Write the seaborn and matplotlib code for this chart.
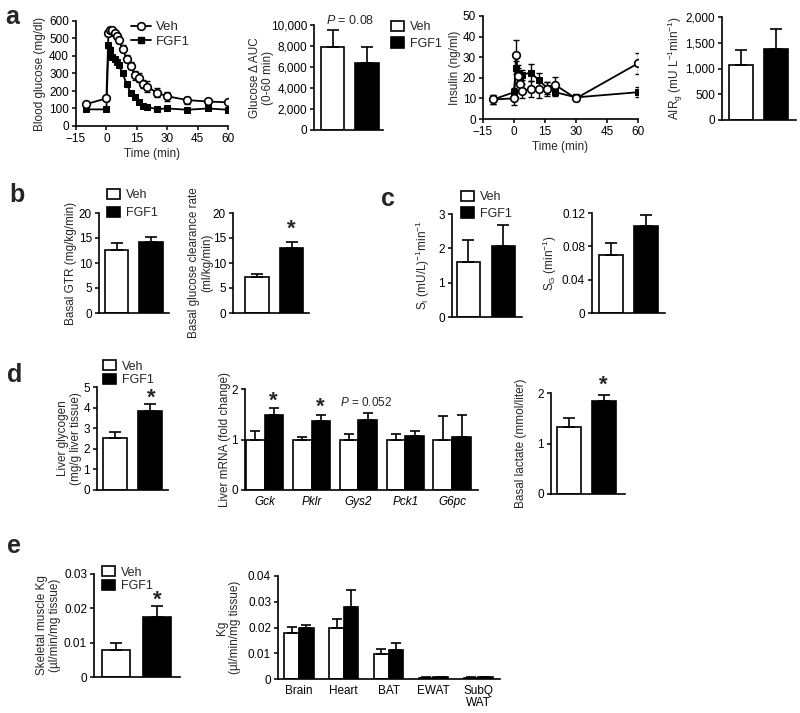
import numpy as np
import pandas as pd
import matplotlib
matplotlib.use("Agg")
import matplotlib.pyplot as plt
import seaborn as sns
from matplotlib.patches import Patch
from matplotlib.lines import Line2D
from matplotlib.transforms import Affine2D, blended_transform_factory

# ── data ──
groups = ["Veh", "FGF1"]
bar_colors = {"Veh": "white", "FGF1": "black"}

# a: IVGTT
gluc_time = [-10, 0, 1, 2, 3, 4, 5, 6, 8, 10, 12, 14, 16, 18, 20, 25, 30, 40, 50, 60]
gluc_veh = [125, 158, 530, 548, 548, 530, 515, 490, 440, 385, 345, 290, 275, 240, 225, 190, 170, 148, 140, 135]
gluc_veh_sem = [10, 15, 15, 12, 12, 12, 15, 15, 20, 20, 20, 25, 25, 25, 30, 25, 25, 20, 15, 10]
gluc_fgf1 = [95, 95, 460, 435, 395, 380, 365, 350, 300, 240, 190, 165, 135, 115, 108, 97, 100, 93, 100, 93]
gluc_fgf1_sem = [8, 8, 15, 15, 12, 10, 10, 10, 10, 8, 8, 8, 6, 6, 6, 5, 5, 5, 5, 5]

auc_vals = [7900, 6400]
auc_sem = [1600, 1500]

ins_time = [-10, 0, 1, 2, 3, 4, 8, 12, 16, 20, 30, 60]
ins_veh = [9.5, 10, 31, 21, 17, 13.5, 14.5, 14.5, 14.5, 16.5, 10, 27]
ins_veh_sem = [2, 3, 7.5, 4, 4, 3.5, 4, 4.5, 3.5, 4, 1.5, 5]
ins_fgf1 = [9.5, 13, 25, 22, 19, 21.5, 22.5, 19, 15, 13, 10.5, 13]
ins_fgf1_sem = [2, 2, 3, 4, 3, 2.5, 4, 3.5, 3, 2, 1.5, 2.5]

air_vals = [1060, 1380]
air_sem = [290, 380]

# b
gtr_vals = [12.6, 14.3]
gtr_sem = [1.4, 0.9]
clear_vals = [7.2, 13.1]
clear_sem = [0.7, 1.2]

# c
si_vals = [1.6, 2.06]
si_sem = [0.63, 0.61]
sg_vals = [0.07, 0.104]
sg_sem = [0.0135, 0.014]

# d
glyc_vals = [2.52, 3.85]
glyc_sem = [0.3, 0.33]
genes = ["Gck", "Pklr", "Gys2", "Pck1", "G6pc"]
mrna_veh = [1.0, 1.0, 1.0, 1.0, 1.0]
mrna_veh_sem = [0.17, 0.05, 0.11, 0.10, 0.46]
mrna_fgf1 = [1.48, 1.37, 1.39, 1.07, 1.05]
mrna_fgf1_sem = [0.14, 0.11, 0.14, 0.10, 0.43]
lact_vals = [1.33, 1.84]
lact_sem = [0.18, 0.12]

# e
skm_vals = [0.0078, 0.0174]
skm_sem = [0.0022, 0.0033]
tissues = ["Brain", "Heart", "BAT", "EWAT", "SubQ\nWAT"]
kg_veh = [0.0177, 0.0198, 0.0097, 0.0005, 0.0005]
kg_veh_sem = [0.0026, 0.0036, 0.0018, 0.0001, 0.0001]
kg_fgf1 = [0.0198, 0.028, 0.0113, 0.0007, 0.0007]
kg_fgf1_sem = [0.001, 0.0066, 0.0026, 0.0001, 0.0001]

# ── style ──
sns.set_theme(style="ticks")
plt.rcParams["font.family"] = ["Liberation Sans", "DejaVu Sans"]
plt.rcParams.update({
    "font.size": 8.5,
    "axes.linewidth": 1.2,
    "axes.edgecolor": "black",
    "xtick.color": "black",
    "ytick.color": "black",
    "xtick.major.width": 1.1,
    "ytick.major.width": 1.1,
    "xtick.major.size": 3,
    "ytick.major.size": 3,
    "xtick.major.pad": 2,
    "ytick.major.pad": 2,
    "xtick.labelsize": 8.5,
    "ytick.labelsize": 8.5,
    "axes.labelsize": 8.5,
    "mathtext.fontset": "custom",
    "mathtext.rm": "Liberation Sans",
    "mathtext.it": "Liberation Sans:italic",
})

W, H = 800, 713
fig = plt.figure(figsize=(W / 100, H / 100), dpi=100)
px = Affine2D().scale(1 / W, -1 / H).translate(0, 1) + fig.transFigure


def box(x0, x1, y0, y1):
    ax = fig.add_axes([x0 / W, 1 - y1 / H, (x1 - x0) / W, (y1 - y0) / H])
    sns.despine(ax=ax)
    return ax


def ylab(ax, text, xr):
    ax.set_ylabel(text, linespacing=1.15)
    ax.yaxis.set_label_coords(xr, 0.5, transform=blended_transform_factory(px, ax.transAxes))


def yaxis(ax, ticks, labels=None):
    ax.set_ylim(ticks[0], ticks[-1])
    ax.set_yticks(ticks)
    ax.set_yticklabels(labels if labels else [str(t) for t in ticks])


def bar_pair(ax, vals, sems, xlim):
    df = pd.DataFrame({"group": groups, "value": vals})
    sns.barplot(data=df, x="group", y="value", hue="group", palette=bar_colors,
                width=0.68, edgecolor="black", linewidth=1.2, errorbar=None,
                legend=False, ax=ax)
    xs = [p.get_x() + p.get_width() / 2 for p in ax.patches]
    ax.errorbar(xs, vals, yerr=[np.zeros(len(vals)), sems], fmt="none",
                ecolor="black", elinewidth=1.2, capsize=4, capthick=1.2, clip_on=False)
    ax.set_xlim(*xlim)
    ax.set_xticks([])
    ax.set_xlabel("")


def bar_groups(ax, cats, veh, veh_sem, fgf, fgf_sem, width, xlim):
    df = pd.DataFrame({"cat": cats * 2, "group": ["Veh"] * len(cats) + ["FGF1"] * len(cats),
                       "value": veh + fgf})
    sns.barplot(data=df, x="cat", y="value", hue="group", palette=bar_colors,
                width=width, edgecolor="black", linewidth=1.2, errorbar=None,
                legend=False, ax=ax)
    for cont, vals, sems in zip(ax.containers, [veh, fgf], [veh_sem, fgf_sem]):
        xs = [b.get_x() + b.get_width() / 2 for b in cont]
        ax.errorbar(xs, vals, yerr=[np.zeros(len(vals)), sems], fmt="none",
                    ecolor="black", elinewidth=1.2, capsize=3.3, capthick=1.2, clip_on=False)
    ax.set_xlim(*xlim)
    ax.tick_params(axis="x", length=0, pad=4)
    ax.set_xlabel("")


def bar_legend(ax, x, y, spacing=0.3):
    handles = [Patch(facecolor="white", edgecolor="black", linewidth=1.2),
               Patch(facecolor="black", edgecolor="black", linewidth=1.2)]
    ax.legend(handles, groups, loc="upper left", bbox_to_anchor=(x, y), bbox_transform=px,
              frameon=False, handlelength=1.0, handleheight=0.9, handletextpad=0.5,
              labelspacing=spacing, borderpad=0, borderaxespad=0, fontsize=9)


def series(ax, t, veh, veh_sem, fgf, fgf_sem, ms):
    sns.lineplot(x=t, y=veh, color="black", marker="o", markersize=ms, markerfacecolor="white",
                 markeredgecolor="black", markeredgewidth=1.2, linewidth=1.3, ax=ax, zorder=4)
    sns.lineplot(x=t, y=fgf, color="black", marker="s", markersize=ms - 0.5, markerfacecolor="black",
                 markeredgecolor="black", linewidth=1.3, ax=ax, zorder=3)
    ax.errorbar(t, veh, yerr=veh_sem, fmt="none", ecolor="black", elinewidth=1, capsize=2.5, zorder=2)
    ax.errorbar(t, fgf, yerr=fgf_sem, fmt="none", ecolor="black", elinewidth=1, capsize=2.5, zorder=2)
    ax.set_xlim(-15, 60)
    ax.set_xticks([-15, 0, 15, 30, 45, 60])
    ax.set_xlabel("Time (min)", labelpad=2)


def label(x, y, s, **kw):
    fig.text(x, y, s, transform=px, **kw)


def star(x, y):
    label(x, y, "*", fontsize=16, fontweight="bold", ha="center", va="center")


# ── panel a ──
ax = box(76, 228, 21, 126)
series(ax, gluc_time, gluc_veh, gluc_veh_sem, gluc_fgf1, gluc_fgf1_sem, 5.5)
yaxis(ax, [0, 100, 200, 300, 400, 500, 600])
ylab(ax, "Blood glucose (mg/dl)", 46)
hl = [Line2D([], [], color="black", marker="o", mfc="white", mec="black", mew=1.2, ms=5.5, lw=1.3),
      Line2D([], [], color="black", marker="s", mfc="black", ms=5, lw=1.3)]
ax.legend(hl, groups, loc="upper left", bbox_to_anchor=(131, 21), bbox_transform=px, frameon=False,
          handlelength=1.5, handletextpad=0.4, labelspacing=0.2, borderpad=0, borderaxespad=0, fontsize=9.5)

ax = box(314, 383, 25, 130)
bar_pair(ax, auc_vals, auc_sem, (-0.54, 1.46))
yaxis(ax, [0, 2000, 4000, 6000, 8000, 10000], ["0", "2,000", "4,000", "6,000", "8,000", "10,000"])
ylab(ax, "Glucose \u0394 AUC\n(0-60 min)", 274)
bar_legend(ax, 391, 21, 0.3)
label(350, 20, r"$P$ = 0.08", fontsize=9, ha="center", va="center")

ax = box(483, 638, 16, 119)
series(ax, ins_time, ins_veh, ins_veh_sem, ins_fgf1, ins_fgf1_sem, 5.5)
yaxis(ax, [0, 10, 20, 30, 40, 50])
ylab(ax, "Insulin (ng/ml)", 461)

ax = box(722, 796, 17, 120)
bar_pair(ax, air_vals, air_sem, (-0.54, 1.58))
yaxis(ax, [0, 500, 1000, 1500, 2000], ["0", "500", "1,000", "1,500", "2,000"])
ylab(ax, r"AIR$_\mathrm{g}$ (mU L$^{-1}$min$^{-1}$)", 685)

# ── panel b ──
ax = box(99, 169, 213, 313)
bar_pair(ax, gtr_vals, gtr_sem, (-0.51, 1.52))
yaxis(ax, [0, 5, 10, 15, 20])
ylab(ax, "Basal GTR (mg/kg/min)", 77)
bar_legend(ax, 107, 189, 0.4)

ax = box(233, 309, 213, 313)
bar_pair(ax, clear_vals, clear_sem, (-0.68, 1.5))
yaxis(ax, [0, 5, 10, 15, 20])
ylab(ax, "Basal glucose clearance rate\n(ml/kg/min)", 213)
star(291, 229)

# ── panel c ──
ax = box(452, 522, 214, 317)
bar_pair(ax, si_vals, si_sem, (-0.47, 1.53))
yaxis(ax, [0, 1, 2, 3])
ylab(ax, r"S$_\mathrm{I}$ (mU/L)$^{-1}$min$^{-1}$", 432)
bar_legend(ax, 461, 191, 0.3)

ax = box(592, 665, 213, 313)
bar_pair(ax, sg_vals, sg_sem, (-0.54, 1.53))
yaxis(ax, [0, 0.04, 0.08, 0.12], ["0", "0.04", "0.08", "0.12"])
ylab(ax, r"S$_\mathrm{G}$ (min$^{-1}$)", 559)

# ── panel d ──
ax = box(97, 168, 387, 490)
bar_pair(ax, glyc_vals, glyc_sem, (-0.51, 1.52))
yaxis(ax, [0, 1, 2, 3, 4, 5])
ylab(ax, "Liver glycogen\n(mg/g liver tissue)", 82)
bar_legend(ax, 103, 360, 0.08)
star(151, 398)

ax = box(245, 478, 389, 490)
bar_groups(ax, genes, mrna_veh, mrna_veh_sem, mrna_fgf1, mrna_fgf1_sem, 0.8, (-0.42, 4.55))
yaxis(ax, [0, 1, 2])
ylab(ax, "Liver mRNA (fold change)", 231)
for t in ax.get_xticklabels():
    t.set_fontstyle("italic")
star(273, 401)
star(320, 407)
label(366, 403, r"$P$ = 0.052", fontsize=8.5, ha="center", va="center")

ax = box(551, 625, 393, 494)
bar_pair(ax, lact_vals, lact_sem, (-0.51, 1.6))
yaxis(ax, [0, 1, 2])
ylab(ax, "Basal lactate (mmol/liter)", 527)
star(603, 385)

# ── panel e ──
ax = box(94, 180, 574, 677)
bar_pair(ax, skm_vals, skm_sem, (-0.53, 1.55))
yaxis(ax, [0, 0.01, 0.02, 0.03], ["0", "0.01", "0.02", "0.03"])
ylab(ax, "Skeletal muscle Kg\n(\u00b5l/min/mg tissue)", 61)
bar_legend(ax, 102, 566, 0.08)
star(157, 600)

ax = box(278, 500, 576, 679)
bar_groups(ax, tissues, kg_veh, kg_veh_sem, kg_fgf1, kg_fgf1_sem, 0.65, (-0.47, 4.49))
yaxis(ax, [0, 0.01, 0.02, 0.03, 0.04], ["0", "0.01", "0.02", "0.03", "0.04"])
ylab(ax, "Kg\n(\u00b5l/min/mg tissue)", 241)
for t in ax.get_xticklabels():
    t.set_linespacing(1.1)

# panel letters
for x, y, s in [(5, 17, "a"), (9, 195, "b"), (381, 199, "c"), (7, 375, "d"), (7, 546, "e")]:
    label(x, y, s, fontsize=18, fontweight="bold", ha="left", va="center")

fig.savefig("out.png", dpi=100)
